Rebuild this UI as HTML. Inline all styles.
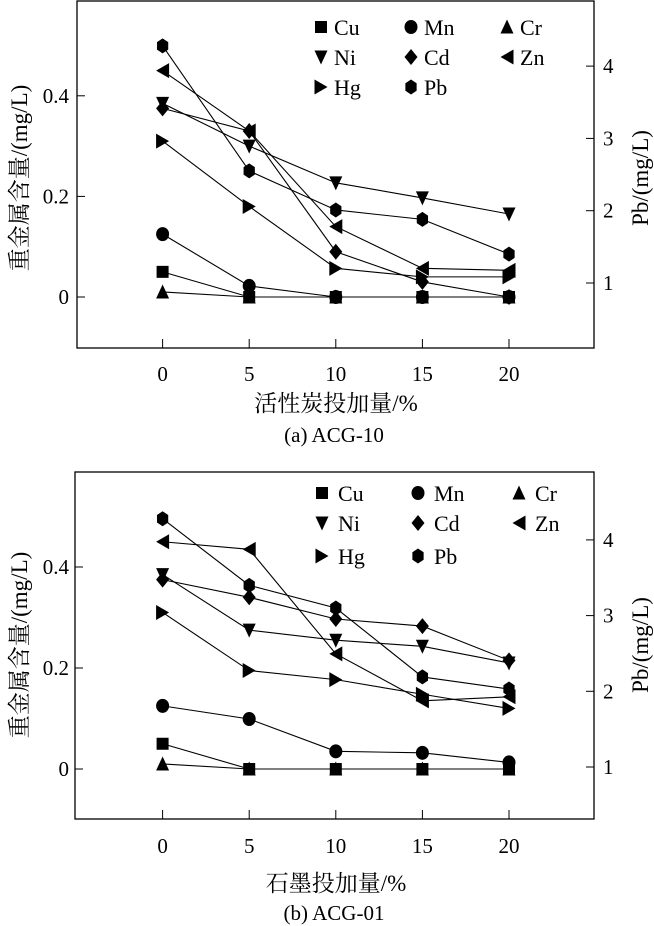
<!DOCTYPE html>
<html><head><meta charset="utf-8"><style>
html,body{margin:0;padding:0;background:#fff;}
svg{display:block;}
text{font-family:"Liberation Serif","Noto Serif CJK SC","Noto Sans CJK SC",serif;fill:#000;}
</style></head><body>
<svg id="chart" width="654" height="926" viewBox="0 0 654 926" xmlns="http://www.w3.org/2000/svg"></svg>
<script>
const categories = [0, 5, 10, 15, 20];
const seriesNames = ["Cu","Mn","Cr","Ni","Cd","Zn","Hg","Pb"];
const leftTicks = [0, 0.2, 0.4];
const leftTickLabels = ["0", "0.2", "0.4"];
const rightTicks = [1, 2, 3, 4];
// Panel (a) ACG-10
const aCu = [0.05, 0, 0, 0, 0];
const aMn = [0.125, 0.022, 0, 0, 0];
const aCr = [0.01, 0, 0, 0, 0];
const aNi = [0.385, 0.30, 0.227, 0.197, 0.165];
const aCd = [0.375, 0.33, 0.09, 0.03, 0];
const aZn = [0.45, 0.33, 0.14, 0.057, 0.053];
const aHg = [0.31, 0.18, 0.057, 0.04, 0.04];
const aPb = [4.28, 2.55, 2.01, 1.88, 1.40];
// Panel (b) ACG-01
const bCu = [0.05, 0, 0, 0, 0];
const bMn = [0.125, 0.099, 0.035, 0.032, 0.013];
const bCr = [0.01, 0, 0, 0, 0];
const bNi = [0.385, 0.275, 0.255, 0.243, 0.21];
const bCd = [0.375, 0.34, 0.297, 0.283, 0.215];
const bZn = [0.45, 0.435, 0.228, 0.135, 0.143];
const bHg = [0.31, 0.195, 0.177, 0.148, 0.12];
const bPb = [4.28, 3.40, 3.10, 2.19, 2.03];

const NS = "http://www.w3.org/2000/svg";
const svg = document.getElementById("chart");
function mk(tag, attrs, parent){
  const e = document.createElementNS(NS, tag);
  for (const k in attrs) e.setAttribute(k, attrs[k]);
  (parent||svg).appendChild(e);
  return e;
}
function marker(g, type, cx, cy){
  const s = 6.5;
  let e;
  if (type==="Cu") e = mk("rect",{x:cx-s+0.5,y:cy-s+0.5,width:2*s-1,height:2*s-1,fill:"#000"},g);
  else if (type==="Mn") e = mk("ellipse",{cx:cx,cy:cy,rx:s,ry:s+0.5,fill:"#000"},g);
  else {
    let p;
    if (type==="Cr") p=[[cx,cy-s-1],[cx+s,cy+s],[cx-s,cy+s]];
    else if (type==="Ni") p=[[cx-s,cy-s],[cx+s,cy-s],[cx,cy+s+1]];
    else if (type==="Cd") p=[[cx,cy-s-1.5],[cx+s,cy],[cx,cy+s+1.5],[cx-s,cy]];
    else if (type==="Zn") p=[[cx+s,cy-s-1],[cx+s,cy+s+1],[cx-s,cy]];
    else if (type==="Hg") p=[[cx-s,cy-s-1],[cx-s,cy+s+1],[cx+s,cy]];
    else { p=[]; for(let i=0;i<6;i++){const a=Math.PI/3*i-Math.PI/2; p.push([cx+s*Math.cos(a),cy+(s+1)*Math.sin(a)]);} }
    e = mk("polygon",{points:p.map(q=>q.join(",")).join(" "),fill:"#000"},g);
  }
  return e;
}
function panel(cfg){
  const g = mk("g",{});
  
  
  const xS = v => 162.6 + v*(509-162.6)/20;
  const yL = v => cfg.y0 - v*cfg.ly;
  const yR = v => cfg.r1 - (v-1)*cfg.ry;
  const box = mk("rect",{x:cfg.L,y:cfg.T,width:cfg.R-cfg.L,height:cfg.B-cfg.T,fill:"none",stroke:"#000","stroke-width":1.3},g);
  
  
  categories.forEach(c=>{
    const x=xS(c);
    mk("line",{x1:x,y1:cfg.B,x2:x,y2:cfg.B-9,stroke:"#000","stroke-width":1},g);
    const t=mk("text",{x:x,y:cfg.xl,"text-anchor":"middle","font-size":21},g);
    t.textContent=c;
    
    
  });
  leftTicks.forEach((v,i)=>{
    const y=yL(v);
    mk("line",{x1:cfg.L,y1:y,x2:cfg.L+8,y2:y,stroke:"#000","stroke-width":1},g);
    const t=mk("text",{x:69,y:y+7,"text-anchor":"end","font-size":21},g);
    t.textContent=leftTickLabels[i];
    
    
  });
  rightTicks.forEach(v=>{
    const y=yR(v);
    mk("line",{x1:cfg.R-8,y1:y,x2:cfg.R,y2:y,stroke:"#000","stroke-width":1},g);
    const t=mk("text",{x:603,y:y+7,"font-size":21},g);
    t.textContent=v;
    
    
  });
  const yt=mk("text",{x:0,y:0,"text-anchor":"middle","font-size":23,transform:`translate(27,${cfg.ytc}) rotate(-90)`},g);
  yt.textContent="重金属含量/(mg/L)";
  
  
  const rt=mk("text",{x:0,y:0,"text-anchor":"middle","font-size":23,transform:`translate(648,${cfg.ytc}) rotate(-90)`},g);
  rt.textContent="Pb/(mg/L)";
  
  
  const xt=mk("text",{x:336,y:cfg.xt,"text-anchor":"middle","font-size":23},g);
  xt.textContent=cfg.xtitle;
  
  
  const cp=mk("text",{x:334,y:cfg.cap,"text-anchor":"middle","font-size":21},g);
  cp.textContent=cfg.caption;
  
  
  seriesNames.forEach(n=>{
    const vals=cfg.data[n];
    const sg=mk("g",{},g);
    
    
    const fy = n==="Pb"? yR : yL;
    const pts=vals.map((v,i)=>[xS(categories[i]),fy(v)]);
    const pl=mk("polyline",{points:pts.map(p=>p.join(",")).join(" "),fill:"none",stroke:"#000","stroke-width":1.1},sg);
    
    
    pts.forEach(p=>{
      const m=marker(sg,n,p[0],p[1]);
      
      
    });
  });
  const lg=mk("g",{},g);
  
  
  seriesNames.forEach((n,i)=>{
    const col=i%3,row=Math.floor(i/3);
    const mx=cfg.lmx[col], y=cfg.lrow[row];
    const eg=mk("g",{},lg);
    
    
    marker(eg,n,mx,y);
    const t=mk("text",{x:mx+cfg.ltx,y:y+8,"font-size":22},eg);
    t.textContent=n;
  });
}
panel({name:"panel-a",L:77,R:594,T:1,B:348,y0:297,ly:503,r1:283,ry:72.3,xl:381,xt:411,cap:442,ytc:178,
  xtitle:"活性炭投加量/%",caption:"(a) ACG-10",
  lmx:[321,411,507],ltx:13,lrow:[27,57,87],
  data:{Cu:aCu,Mn:aMn,Cr:aCr,Ni:aNi,Cd:aCd,Zn:aZn,Hg:aHg,Pb:aPb}});
panel({name:"panel-b",L:75,R:594,T:472,B:819,y0:769,ly:505,r1:767,ry:75.7,xl:853,xt:891,cap:920,ytc:645,
  xtitle:"石墨投加量/%",caption:"(b) ACG-01",
  lmx:[322,418,519],ltx:16,lrow:[493,523,556],
  data:{Cu:bCu,Mn:bMn,Cr:bCr,Ni:bNi,Cd:bCd,Zn:bZn,Hg:bHg,Pb:bPb}});
</script>
</body></html>
